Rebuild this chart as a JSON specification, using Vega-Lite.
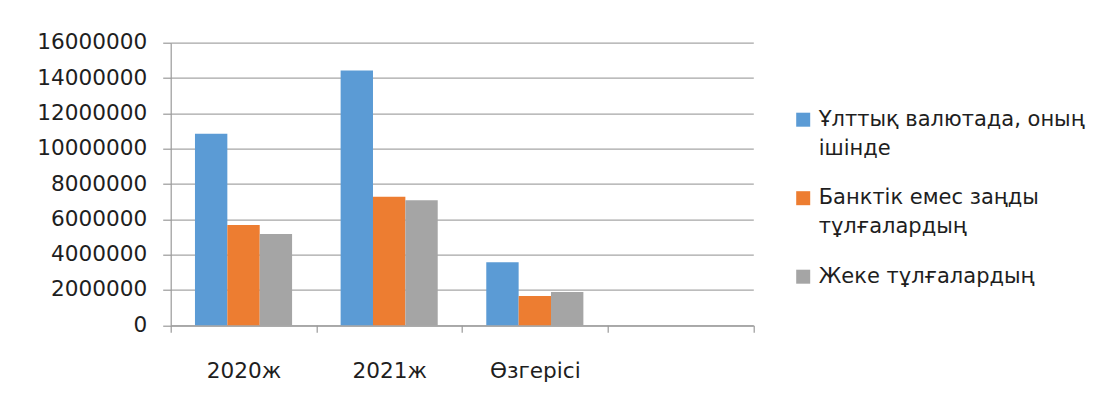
{
  "$schema": "https://vega.github.io/schema/vega-lite/v6.json",
  "autosize": {"type": "none"},
  "padding": {"left": 170.7, "top": 42.7, "right": 345.7, "bottom": 82.7},
  "width": 582.6,
  "height": 282.6,
  "background": "white",
  "config": {
    "view": {"stroke": null},
    "font": "DejaVu Sans",
    "axis": {"labelFont": "DejaVu Sans", "labelFontSize": 21.6, "labelColor": "#1e1e1e", "domainColor": "#9a9a9a", "tickColor": "#9a9a9a", "gridColor": "#a6a6a6", "domainWidth": 1.2, "tickWidth": 1.2, "gridWidth": 1.2}
  },
  "data": {
    "values": [
      {"category": "2020ж", "series": "Ұлттық валютада, оның ішінде", "value": 10850000},
      {"category": "2020ж", "series": "Банктік емес заңды тұлғалардың", "value": 5680000},
      {"category": "2020ж", "series": "Жеке тұлғалардың", "value": 5170000},
      {"category": "2021ж", "series": "Ұлттық валютада, оның ішінде", "value": 14420000},
      {"category": "2021ж", "series": "Банктік емес заңды тұлғалардың", "value": 7280000},
      {"category": "2021ж", "series": "Жеке тұлғалардың", "value": 7080000},
      {"category": "Өзгерісі", "series": "Ұлттық валютада, оның ішінде", "value": 3570000},
      {"category": "Өзгерісі", "series": "Банктік емес заңды тұлғалардың", "value": 1660000},
      {"category": "Өзгерісі", "series": "Жеке тұлғалардың", "value": 1890000}
    ]
  },
  "mark": {"type": "bar"},
  "encoding": {
    "x": {
      "field": "category",
      "type": "nominal",
      "sort": null,
      "scale": {"domain": ["2020ж", "2021ж", "Өзгерісі", " "], "paddingInner": 0, "paddingOuter": 0},
      "axis": {"title": null, "labelAngle": 0, "tickBand": "extent", "tickSize": 7, "labelPadding": 28, "labelBaseline": "top", "grid": false}
    },
    "xOffset": {
      "field": "series",
      "type": "nominal",
      "sort": null,
      "scale": {"domain": ["Ұлттық валютада, оның ішінде", "Банктік емес заңды тұлғалардың", "Жеке тұлғалардың"], "paddingInner": 0, "paddingOuter": 0.75}
    },
    "y": {
      "field": "value",
      "type": "quantitative",
      "scale": {"domain": [0, 16000000], "nice": false},
      "axis": {"title": null, "values": [0, 2000000, 4000000, 6000000, 8000000, 10000000, 12000000, 14000000, 16000000], "format": "d", "tickSize": 8, "labelPadding": 16, "grid": true}
    },
    "color": {
      "field": "series",
      "type": "nominal",
      "sort": null,
      "scale": {"domain": ["Ұлттық валютада, оның ішінде", "Банктік емес заңды тұлғалардың", "Жеке тұлғалардың"], "range": ["#5B9BD5", "#ED7D31", "#A5A5A5"]},
      "legend": {
        "title": null,
        "orient": "none",
        "legendX": 622,
        "legendY": 66.5,
        "padding": 0,
        "symbolType": "square",
        "symbolSize": 196,
        "symbolStrokeWidth": 0,
        "labelFont": "DejaVu Sans",
        "labelFontSize": 21,
        "labelColor": "#1e1e1e",
        "labelOffset": 5,
        "labelLimit": 400,
        "rowPadding": 27.5,
        "labelExpr": "datum.label == 'Ұлттық валютада, оның ішінде' ? ['Ұлттық валютада, оның', 'ішінде'] : datum.label == 'Банктік емес заңды тұлғалардың' ? ['Банктік емес заңды', 'тұлғалардың'] : datum.label",
        "encode": {"labels": {"update": {"lineHeight": {"value": 29}}}}
      }
    }
  }
}
